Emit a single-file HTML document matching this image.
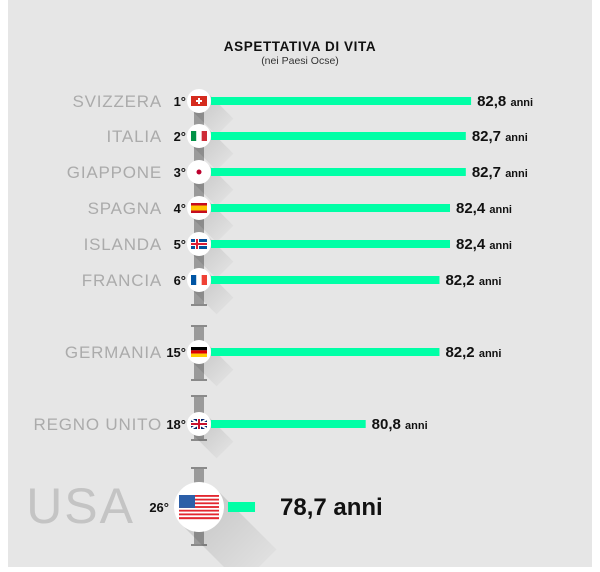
<!DOCTYPE html>
<html><head><meta charset="utf-8"><style>
body{margin:0;background:#fff;width:600px;height:567px;overflow:hidden;font-family:"Liberation Sans",sans-serif}
</style></head><body>
<svg width="600" height="567">
<defs>
<linearGradient id="sh" x1="0" y1="0" x2="1" y2="1"><stop offset="0" stop-color="#000" stop-opacity="0.16"/><stop offset="1" stop-color="#000" stop-opacity="0"/></linearGradient>
</defs>
<rect x="8" y="0" width="584" height="567" fill="#e6e6e6"/>
<text x="300" y="51" text-anchor="middle" font-weight="bold" font-size="13.5" letter-spacing="0.6" fill="#111">ASPETTATIVA DI VITA</text>
<text x="300" y="64" text-anchor="middle" font-size="10.5" fill="#333">(nei Paesi Ocse)</text>
<g id="spine"></g>
<g id="rows"></g>
</svg>
<script>
const countries=["SVIZZERA","ITALIA","GIAPPONE","SPAGNA","ISLANDA","FRANCIA","GERMANIA","REGNO UNITO","USA"];
const ranks=["1°","2°","3°","4°","5°","6°","15°","18°","26°"];
const values=[82.8,82.7,82.7,82.4,82.4,82.2,82.2,80.8,78.7];
const labels=["82,8","82,7","82,7","82,4","82,4","82,2","82,2","80,8","78,7"];
const rowY=[101,136,172,208,244,280,352,424,507];
const NS="http://www.w3.org/2000/svg";
function xScale(v){return 422.6+52.7*(v-81.88);}
function mk(t,a,p){const e=document.createElementNS(NS,t);for(const k in a)e.setAttribute(k,a[k]);p.appendChild(e);return e;}
const sp=document.getElementById('spine'),rows=document.getElementById('rows');
const segs=[[101,305],[326,380],[396,440],[468,545]];
segs.forEach((s,i)=>{
 const r=mk('rect',{x:194,y:s[0],width:10,height:s[1]-s[0],fill:'#9a9a9a'},sp);
 
 
 mk('rect',{x:191,y:s[0]-1,width:16,height:2,fill:'#8a8a8a'},sp);
 mk('rect',{x:191,y:s[1]-1,width:16,height:2,fill:'#8a8a8a'},sp);
});
function flag(i,cx,cy,w,h,g){
 const x=cx-w/2,y=cy-h/2;
 const f=(c,xx,yy,ww,hh)=>mk('rect',{x:xx,y:yy,width:ww,height:hh,fill:c},g);
 switch(i){
 case 0:f('#d52b1e',x,y,w,h);f('#fff',cx-1,cy-3,2,6);f('#fff',cx-3,cy-1,6,2);break;
 case 1:f('#009246',x,y,w/3,h);f('#fff',x+w/3,y,w/3,h);f('#ce2b37',x+2*w/3,y,w/3,h);break;
 case 2:f('#fff',x,y,w,h);mk('circle',{cx:cx,cy:cy,r:2.5,fill:'#bc002d'},g);break;
 case 3:f('#c60b1e',x,y,w,h);f('#ffc400',x,y+h/4,w,h/2);break;
 case 4:f('#02529c',x,y,w,h);f('#fff',x+4,y,4,h);f('#fff',x,cy-2,w,4);f('#dc1e35',x+5,y,2,h);f('#dc1e35',x,cy-1,w,2);break;
 case 5:f('#0055a4',x,y,w/3,h);f('#fff',x+w/3,y,w/3,h);f('#ef4135',x+2*w/3,y,w/3,h);break;
 case 6:f('#000',x,y,w,h/3);f('#dd0000',x,y+h/3,w,h/3);f('#ffce00',x,y+2*h/3,w,h/3);break;
 case 7:f('#012169',x,y,w,h);mk('path',{d:`M${x} ${y}L${x+w} ${y+h}M${x+w} ${y}L${x} ${y+h}`,stroke:'#fff','stroke-width':2},g);f('#fff',cx-2,y,4,h);f('#fff',x,cy-2,w,4);f('#c8102e',cx-1,y,2,h);f('#c8102e',x,cy-1,w,2);break;
 case 8:for(let k=0;k<13;k++)f(k%2?'#fff':'#e3262f',x,y+k*h/13,w,h/13+0.2);f('#2c5fa8',x,y,w*0.4,h*7/13);break;
 }
}
countries.forEach((c,i)=>{
 const y=rowY[i],big=i===8;
 const g=mk('g',{},rows);
 
 
 const R=big?25:12, L=big?60:26;
 mk('polygon',{points:`${199+R*0.7},${y-R*0.7} ${199-R*0.7},${y+R*0.7} ${199-R*0.7+L},${y+R*0.7+L} ${199+R*0.7+L},${y-R*0.7+L}`,fill:'url(#sh)'},g);
 const x0=big?228:211, x1=xScale(values[i]);
 const bar=mk('rect',{x:x0,y:y-(big?5:4),width:Math.max(0,x1-x0),height:big?10:8,fill:'#00ffa6'},g);
 
 
 const circ=mk('circle',{cx:199,cy:y,r:R,fill:'#fff'},g);
 
 
 flag(i,199,y,big?40:16,big?24:10,g);
 const n=mk('text',{x:big?135:162,y:y+(big?16:6),'text-anchor':'end','font-size':big?50:17,fill:big?'#c4c4c4':'#ababab','letter-spacing':big?2:0.8},g);
 n.textContent=c;
 
 
 const r=mk('text',{x:big?169:186,y:y+5,'text-anchor':'end','font-size':13,'font-weight':'bold',fill:'#111'},g);
 r.textContent=ranks[i];
 
 
 const v=mk('text',{x:x1+(big?25:6),y:y+(big?8:5),'font-size':big?24:15,'font-weight':'bold',fill:'#111'},g);
 
 
 v.textContent=labels[i]+' ';
 const t=mk('tspan',{'font-size':big?24:11},v);t.textContent='anni';
});
</script>
</body></html>
